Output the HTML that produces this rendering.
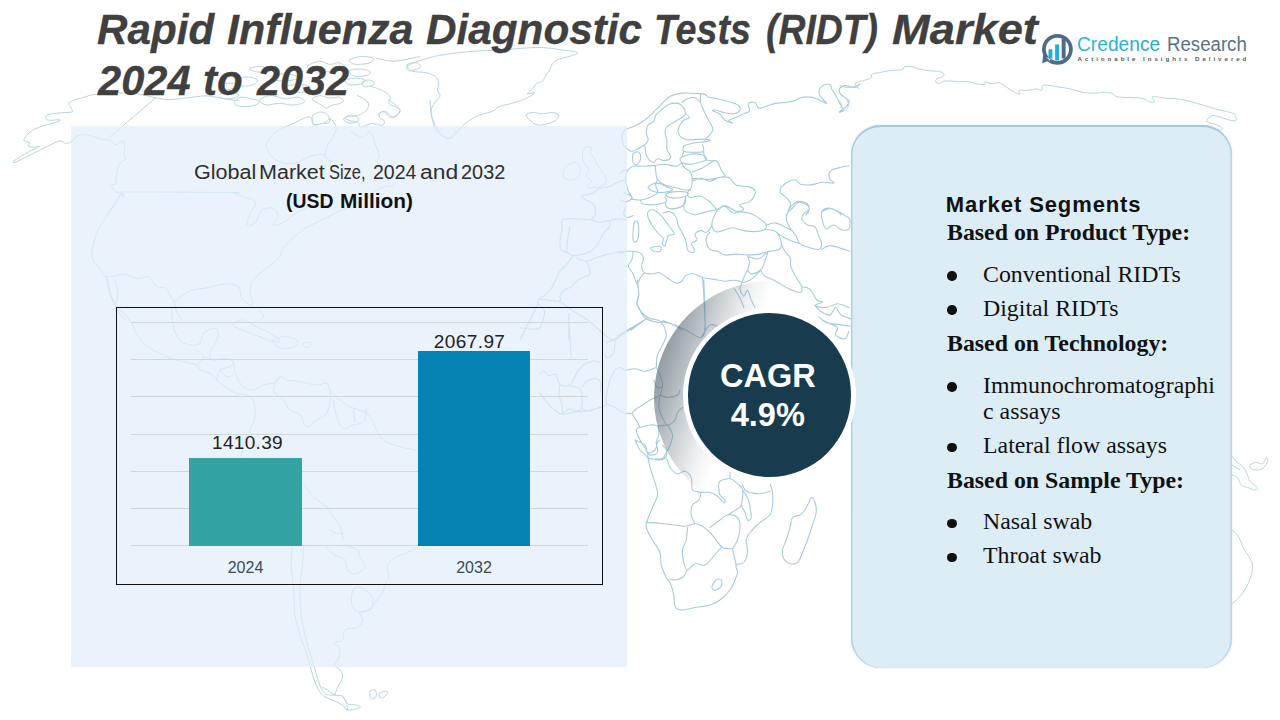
<!DOCTYPE html>
<html>
<head>
<meta charset="utf-8">
<title>Rapid Influenza Diagnostic Tests (RIDT) Market</title>
<style>
*{margin:0;padding:0;box-sizing:border-box;}
html,body{width:1280px;height:720px;overflow:hidden;background:#fff;}
body{position:relative;font-family:"Liberation Sans",sans-serif;}
.abs{position:absolute;}
#map{left:0;top:0;width:1280px;height:720px;}
#title{position:absolute;left:0;top:0;}
.tw{position:absolute;-webkit-text-stroke:0.3px #404040;font-weight:bold;font-style:italic;font-size:42px;line-height:51px;color:#404040;white-space:nowrap;transform-origin:0 0;}
#lpanel{left:71px;top:126px;width:556px;height:541px;background:rgba(225,238,249,0.7);}
#ct1,#ct2{position:absolute;left:0;top:0;}
.cw{position:absolute;font-size:19.6px;line-height:24px;color:#2e2e2e;white-space:nowrap;transform-origin:0 0;}
.cb{font-weight:bold;color:#111;}
#chart{left:116px;top:307px;width:487px;height:278px;border:1.5px solid #111;}
.gl{position:absolute;left:131px;width:457px;height:1px;background:#cfd7db;}
.bar{position:absolute;}
.vl{position:absolute;font-size:19px;line-height:22px;color:#222;text-align:center;white-space:nowrap;}
.xl{position:absolute;font-size:16px;line-height:18px;color:#3c4a52;text-align:center;white-space:nowrap;}
#rpanel{left:850.5px;top:125px;width:381.5px;height:542.5px;border-radius:30px;background:#ddedf6;box-shadow:inset 0 2px 0 0 #a8c9d9, inset 1.5px 0 0 0 #b3d2e0, inset -1.5px 0 0 0 #b9d6e3, 0 0 2px rgba(190,218,232,0.7);}
.seg{position:absolute;left:947px;white-space:nowrap;color:#111;}
.sh{font-family:"Liberation Serif",serif;font-weight:bold;font-size:23.85px;line-height:26px;}
.si{font-family:"Liberation Serif",serif;font-size:23.85px;line-height:26px;left:983px;}
.bu{position:absolute;width:9.6px;height:9.4px;border-radius:50%;background:#111;left:947px;}
</style>
</head>
<body>
<svg id="map" class="abs" viewBox="0 0 1280 720"><g fill="none" stroke-linejoin="round" stroke-linecap="round"><path d="M155.6 97.8 C151.2 97.0 141.7 93.8 131.2 93.1 C120.8 92.5 106.3 93.2 97.5 94.1 C88.7 94.9 87.6 96.3 82.5 97.8 C77.4 99.3 71.4 100.6 69.4 102.5 C67.3 104.4 70.7 106.4 71.2 108.1 C71.8 109.8 73.9 111.0 72.2 111.9 C70.5 112.7 66.3 112.3 61.9 112.8 C57.5 113.3 50.7 113.7 47.8 114.7 C44.9 115.7 45.6 117.4 45.9 118.4 C46.3 119.5 47.2 120.1 49.7 120.3 C52.2 120.5 58.8 119.4 60.0 119.8 C61.2 120.1 59.3 121.1 56.2 122.2 C53.2 123.3 47.5 124.4 43.1 125.9 C38.7 127.5 35.1 128.6 31.9 130.6 C28.7 132.7 26.7 135.3 25.3 137.2 C24.0 139.0 23.5 139.9 24.4 140.9 C25.2 141.9 29.3 142.0 30.0 142.8 C30.7 143.7 27.6 144.8 28.1 145.6 C28.6 146.4 30.8 147.0 32.8 147.1 C34.8 147.3 40.2 145.7 39.4 146.6 C38.5 147.5 31.8 150.2 28.1 152.2 C24.4 154.2 21.4 156.1 18.8 157.8 C16.1 159.5 13.8 160.7 13.1 161.6 C12.4 162.4 13.0 163.2 15.0 162.5 C17.0 161.8 20.3 159.8 24.4 157.8 C28.4 155.8 33.1 153.4 37.5 151.2 C41.9 149.1 44.7 147.5 48.8 145.6 C52.8 143.8 57.0 141.3 60.0 140.9 C63.0 140.5 63.3 143.4 65.6 143.4 C68.0 143.4 71.1 142.3 73.1 140.9 C75.2 139.6 74.5 137.0 76.9 135.9 C79.2 134.8 83.5 134.7 86.2 134.8 C89.0 134.8 89.2 135.5 91.9 136.2 C94.6 137.0 98.2 138.4 101.2 139.1 C104.3 139.7 106.7 139.5 108.8 140.0 C110.8 140.5 111.2 141.0 112.5 141.9 C113.8 142.7 114.4 144.9 116.2 144.7 C118.1 144.5 121.3 140.8 122.8 140.9 C124.3 141.1 124.5 143.1 124.7 145.6 C124.9 148.2 123.6 152.6 123.8 155.0 C123.9 157.4 126.3 157.2 125.6 158.8 C125.0 160.3 121.5 161.4 120.0 163.4 C118.5 165.5 117.9 167.5 117.2 170.0 C116.5 172.5 116.6 175.0 116.2 177.5 C115.9 180.0 116.2 182.7 115.3 184.1 C114.5 185.4 111.4 183.6 111.6 185.0 C111.7 186.4 114.7 190.6 116.2 191.9 C117.8 193.3 118.7 191.6 120.0 192.5 C121.3 193.4 123.4 197.2 123.8 197.2 C124.1 197.2 123.1 192.0 121.9 192.5 C120.7 193.0 118.9 197.3 117.2 200.0 C115.5 202.7 114.4 204.8 112.5 207.5 C110.6 210.2 107.9 213.7 106.9 215.0 M155.6 97.8 L109.7 137.2 M155.6 97.8 C158.0 98.2 163.0 99.7 168.8 99.7 C174.5 99.7 180.8 98.5 187.5 97.8 C194.2 97.1 199.5 95.8 206.2 95.9 C213.0 96.1 219.3 97.9 225.0 98.8 C230.7 99.6 235.8 100.3 238.1 100.6 M121.9 191.9 L240.0 192.5 M407.5 66.2 C407.9 64.7 410.9 64.1 415.0 62.5 C419.1 60.9 423.7 59.1 430.0 57.5 C436.3 55.9 441.9 54.9 450.0 53.8 C458.1 52.6 466.0 51.9 475.0 51.2 C484.0 50.6 488.8 50.7 500.0 50.0 C511.2 49.3 526.2 47.5 537.5 47.5 C548.8 47.5 555.3 49.1 562.5 50.0 C569.7 50.9 576.1 51.4 577.5 52.5 C578.9 53.6 573.1 55.1 570.0 56.2 C566.9 57.4 563.1 57.4 560.0 58.8 C556.9 60.1 554.3 61.7 552.5 63.8 C550.7 65.8 551.1 68.0 550.0 70.0 C548.9 72.0 547.6 73.0 546.2 75.0 C544.9 77.0 544.3 79.7 542.5 81.2 C540.7 82.8 538.0 82.4 536.2 83.8 C534.5 85.1 534.1 87.0 532.5 88.8 C530.9 90.5 527.0 93.1 527.5 93.8 C528.0 94.4 534.5 92.0 535.0 92.5 C535.5 93.0 532.2 94.9 530.0 96.2 C527.8 97.6 526.1 98.7 522.5 100.0 C518.9 101.3 514.0 102.6 510.0 103.8 C505.9 104.9 503.1 104.9 500.0 106.2 C496.9 107.6 496.1 109.7 492.5 111.2 C488.9 112.8 484.1 113.4 480.0 115.0 C475.9 116.6 473.1 118.0 470.0 120.0 C466.9 122.0 465.0 123.8 462.5 126.2 C460.0 128.7 458.5 131.5 456.2 133.8 C454.0 136.0 452.5 138.3 450.0 138.8 C447.5 139.2 445.0 137.8 442.5 136.2 C440.0 134.7 438.1 132.9 436.2 130.0 C434.4 127.1 433.4 123.6 432.5 120.0 C431.6 116.4 430.8 113.2 431.2 110.0 C431.7 106.8 433.4 105.0 435.0 102.5 C436.6 100.0 439.6 98.5 440.0 96.2 C440.4 94.0 437.7 92.5 437.5 90.0 C437.3 87.5 439.2 85.0 438.8 82.5 C438.3 80.0 437.5 78.0 435.0 76.2 C432.5 74.5 429.1 73.4 425.0 72.5 C420.9 71.6 415.6 72.4 412.5 71.2 C409.4 70.1 407.1 67.8 407.5 66.2 M526.2 115.0 C526.5 113.4 529.6 112.7 532.5 112.5 C535.4 112.3 538.9 113.8 542.5 113.8 C546.1 113.8 549.6 112.3 552.5 112.5 C555.4 112.7 558.1 113.7 558.8 115.0 C559.4 116.3 558.3 118.4 556.2 120.0 C554.2 121.6 550.9 122.8 547.5 123.8 C544.1 124.7 540.4 125.5 537.5 125.0 C534.6 124.5 533.3 123.0 531.2 121.2 C529.2 119.5 526.0 116.6 526.2 115.0 M585.0 147.5 C586.6 146.4 590.4 146.6 591.2 147.5 C592.1 148.4 589.5 150.7 590.0 152.5 C590.5 154.3 592.4 155.2 593.8 157.5 C595.1 159.8 595.9 162.3 597.5 165.0 C599.1 167.7 600.9 170.0 602.5 172.5 C604.1 175.0 606.0 176.5 606.2 178.8 C606.5 181.0 605.8 183.4 603.8 185.0 C601.7 186.6 598.1 187.1 595.0 187.5 C591.9 187.9 586.9 188.6 586.2 187.5 C585.6 186.4 591.2 183.3 591.2 181.2 C591.2 179.2 586.7 178.3 586.2 176.2 C585.8 174.2 589.2 172.5 588.8 170.0 C588.3 167.5 584.9 165.4 583.8 162.5 C582.6 159.6 582.3 156.4 582.5 153.8 C582.7 151.1 583.4 148.6 585.0 147.5 M565.0 167.5 C567.0 164.8 572.3 162.5 575.0 162.5 C577.7 162.5 579.3 165.0 580.0 167.5 C580.7 170.0 580.3 174.0 578.8 176.2 C577.2 178.5 574.0 179.8 571.2 180.0 C568.5 180.2 564.9 179.8 563.8 177.5 C562.6 175.2 563.0 170.2 565.0 167.5 M235.6 100.3 C236.8 98.9 239.1 97.5 241.9 97.2 C244.7 96.9 248.2 98.0 251.2 98.8 C254.3 99.5 258.2 100.0 259.1 101.1 C259.9 102.2 258.5 104.0 255.9 105.0 C253.4 106.0 248.7 106.6 245.0 106.6 C241.3 106.6 237.3 106.1 235.6 105.0 C233.9 103.9 234.5 101.7 235.6 100.3 M240.3 78.4 C242.0 77.3 245.0 76.6 248.1 76.9 C251.2 77.2 256.7 78.6 257.5 80.0 C258.3 81.4 255.3 83.6 252.8 84.7 C250.3 85.8 246.0 86.5 243.4 86.2 C240.9 86.0 239.3 84.5 238.8 83.1 C238.2 81.7 238.6 79.6 240.3 78.4 M249.7 68.3 C250.8 67.4 256.7 66.4 260.6 66.7 C264.6 67.0 270.7 68.9 271.6 69.8 C272.4 70.8 268.4 71.9 265.3 72.2 C262.2 72.5 257.2 72.1 254.4 71.4 C251.6 70.7 248.6 69.1 249.7 68.3 M260.6 98.8 C262.6 97.6 267.1 95.6 271.6 95.6 C276.1 95.6 280.8 98.5 285.6 98.8 C290.4 99.0 294.8 96.6 298.1 97.2 C301.5 97.8 305.2 100.5 304.4 101.9 C303.5 103.3 297.9 104.7 293.4 105.0 C288.9 105.3 284.2 103.4 279.4 103.4 C274.6 103.4 270.2 105.3 266.9 105.0 C263.5 104.7 261.8 103.0 260.6 101.9 C259.5 100.8 258.7 99.9 260.6 98.8 M307.5 65.9 C308.9 64.2 316.1 61.5 320.0 61.2 C323.9 61.0 326.0 64.1 329.4 64.4 C332.8 64.7 335.9 62.2 338.8 62.8 C341.6 63.4 345.6 66.1 345.0 67.5 C344.4 68.9 339.8 69.8 335.6 70.6 C331.4 71.5 325.8 72.2 321.6 72.2 C317.3 72.2 314.7 71.8 312.2 70.6 C309.7 69.5 306.1 67.6 307.5 65.9 M349.7 59.7 C351.4 58.6 356.4 56.8 360.6 56.6 C364.8 56.3 371.4 57.0 373.1 58.1 C374.8 59.2 372.8 61.7 370.0 62.8 C367.2 63.9 360.9 64.4 357.5 64.4 C354.1 64.4 352.7 63.7 351.2 62.8 C349.8 62.0 348.0 60.8 349.7 59.7 M349.7 70.6 C350.8 69.4 357.0 68.9 360.6 69.1 C364.3 69.2 368.9 70.3 370.0 71.4 C371.1 72.5 369.7 74.5 366.9 75.3 C364.1 76.2 357.5 76.9 354.4 76.1 C351.3 75.2 348.6 71.9 349.7 70.6 M345.0 80.0 C346.1 78.9 352.3 78.4 355.9 78.4 C359.6 78.4 364.5 79.0 365.3 80.0 C366.2 81.0 363.4 83.1 360.6 83.9 C357.8 84.8 352.5 85.4 349.7 84.7 C346.9 84.0 343.9 81.1 345.0 80.0 M362.2 82.3 C363.0 81.2 366.2 79.9 368.4 80.0 C370.7 80.1 374.4 82.0 374.7 83.1 C375.0 84.2 372.0 85.7 370.0 86.2 C368.0 86.8 365.2 87.0 363.8 86.2 C362.3 85.5 361.3 83.5 362.2 82.3 M312.2 98.8 C313.0 97.6 316.9 95.8 320.0 95.6 C323.1 95.5 326.0 97.7 329.4 98.0 C332.8 98.2 336.2 96.8 338.8 97.2 C341.3 97.6 343.2 99.2 343.4 100.3 C343.7 101.4 342.3 102.6 340.3 103.4 C338.3 104.3 335.0 104.2 332.5 105.0 C330.0 105.8 328.2 108.1 326.2 108.1 C324.3 108.1 323.5 106.1 321.6 105.0 C319.6 103.9 317.0 103.0 315.3 101.9 C313.6 100.8 311.3 99.9 312.2 98.8 M313.8 114.4 C315.4 113.1 319.0 111.9 321.6 112.0 C324.1 112.2 326.4 113.3 327.8 115.2 C329.2 117.0 330.5 120.6 329.4 122.2 C328.2 123.7 324.4 123.3 321.6 123.8 C318.8 124.2 315.4 125.4 313.8 124.5 C312.1 123.7 312.2 120.9 312.2 119.1 C312.2 117.2 312.1 115.6 313.8 114.4 M357.5 95.6 C358.6 96.2 361.8 97.3 363.8 98.8 C365.7 100.2 367.9 101.5 368.4 103.4 C369.0 105.4 368.3 107.7 366.9 109.7 C365.5 111.7 362.9 113.2 360.6 114.4 C358.4 115.5 357.2 115.4 354.4 115.9 C351.6 116.5 345.8 116.7 345.0 117.5 C344.2 118.3 347.4 119.8 349.7 120.6 C351.9 121.5 355.5 121.1 357.5 122.2 C359.5 123.3 358.4 126.6 360.6 126.9 C362.9 127.2 367.5 124.3 370.0 123.8 C372.5 123.2 372.4 123.5 374.7 123.8 C376.9 124.0 380.8 125.9 382.5 125.3 C384.2 124.8 384.6 122.0 384.1 120.6 C383.5 119.2 379.9 119.0 379.4 117.5 C378.8 116.0 379.8 112.9 380.9 112.0 C382.1 111.2 383.9 111.8 385.6 112.8 C387.3 113.8 388.3 116.9 390.3 117.5 C392.3 118.1 394.9 117.2 396.6 115.9 C398.2 114.7 400.0 112.2 399.7 110.5 C399.4 108.8 397.0 107.8 395.0 106.6 C393.0 105.3 389.6 105.1 388.8 103.4 C387.9 101.8 390.9 99.2 390.3 97.2 C389.8 95.2 387.9 94.0 385.6 92.5 C383.4 91.0 380.6 89.7 377.8 88.6 C375.0 87.5 371.4 86.7 370.0 86.2 M376.2 58.1 C379.1 58.7 386.8 61.0 391.9 61.2 C396.9 61.5 399.3 60.5 404.4 59.7 C409.4 58.8 417.2 57.1 420.0 56.6 M407.5 64.4 C408.9 63.0 414.6 62.2 416.9 62.8 C419.1 63.4 421.4 66.1 420.0 67.5 C418.6 68.9 411.3 71.2 409.1 70.6 C406.8 70.1 406.1 65.8 407.5 64.4 M220.0 94.1 C221.7 93.8 226.0 92.4 229.4 92.5 C232.8 92.6 237.9 93.9 238.8 94.8 C239.6 95.8 236.6 97.3 234.1 98.0 C231.5 98.7 227.2 98.9 224.7 98.8 C222.2 98.6 220.8 97.5 220.0 97.2 M220.0 86.2 C221.4 85.7 224.7 83.4 227.8 83.1 C230.9 82.8 236.3 83.7 237.2 84.7 C238.0 85.7 235.0 87.6 232.5 88.6 C230.0 89.6 224.8 89.9 223.1 90.2 M273.1 75.3 C275.4 74.5 281.1 73.5 285.6 73.8 C290.1 74.0 296.7 75.8 298.1 76.9 C299.5 78.0 296.8 79.3 293.4 80.0 C290.1 80.7 283.0 81.1 279.4 80.8 C275.7 80.5 274.2 79.4 273.1 78.4 C272.0 77.5 270.9 76.2 273.1 75.3 M285.6 86.2 C288.4 85.4 296.8 84.4 301.2 84.7 C305.8 85.0 310.1 86.5 310.6 87.8 C311.2 89.1 308.0 90.9 304.4 91.7 C300.7 92.6 293.7 92.9 290.3 92.5 C286.9 92.1 286.5 90.5 285.6 89.4 C284.8 88.2 282.8 87.1 285.6 86.2 M332.5 161.9 C331.1 160.9 326.0 158.9 325.0 156.2 C324.0 153.6 325.5 150.2 326.9 146.9 C328.2 143.5 330.8 140.9 332.5 137.5 C334.2 134.1 336.6 131.5 336.2 128.1 C335.9 124.8 332.6 119.8 330.6 118.8 C328.6 117.7 328.0 121.5 325.0 122.5 C322.0 123.5 316.4 125.4 313.8 124.4 C311.1 123.4 313.4 117.2 310.0 116.9 C306.6 116.5 301.1 119.8 295.0 122.5 C288.9 125.2 281.3 128.2 276.2 131.9 C271.2 135.6 268.2 139.4 266.9 143.1 C265.5 146.8 267.1 149.5 268.8 152.5 C270.4 155.5 272.9 158.0 276.2 160.0 C279.6 162.0 283.4 163.4 287.5 163.8 C291.6 164.1 294.7 163.2 298.8 161.9 C302.8 160.5 305.9 157.6 310.0 156.2 C314.1 154.9 318.6 154.4 321.2 154.4 C323.9 154.4 324.3 155.9 325.0 156.2 M351.2 131.9 C353.3 132.9 359.1 137.5 362.5 137.5 C365.9 137.5 367.6 130.5 370.0 131.9 C372.4 133.2 373.9 140.6 375.6 145.0 C377.3 149.4 379.0 153.2 379.4 156.2 C379.7 159.3 376.8 159.2 377.5 161.9 C378.2 164.6 381.1 168.2 383.1 171.2 C385.1 174.3 388.4 176.4 388.8 178.8 C389.1 181.1 385.7 183.4 385.0 184.4 M343.8 118.8 C344.4 117.4 348.6 115.0 351.2 115.0 C353.9 115.0 358.1 117.4 358.8 118.8 C359.4 120.1 357.0 121.8 355.0 122.5 C353.0 123.2 349.5 123.2 347.5 122.5 C345.5 121.8 343.1 120.1 343.8 118.8 M377.5 115.0 C378.9 114.3 382.3 110.9 385.0 111.2 C387.7 111.6 389.8 116.9 392.5 116.9 C395.2 116.9 399.3 113.3 400.0 111.2 C400.7 109.2 398.3 107.7 396.2 105.6 C394.2 103.6 390.1 101.0 388.8 100.0 M430.0 100.0 C430.2 102.0 430.3 107.2 430.9 111.2 C431.6 115.3 431.9 118.5 433.8 122.5 C435.6 126.5 438.6 131.1 441.2 133.8 C443.9 136.4 446.1 137.8 448.8 137.5 C451.4 137.2 454.2 133.6 456.2 131.9 C458.3 130.2 459.3 128.8 460.0 128.1 M840.0 85.6 C841.4 86.0 844.8 87.3 847.5 87.5 C850.2 87.7 853.0 86.4 855.0 86.6 C857.0 86.7 858.8 88.9 858.8 88.4 C858.8 87.9 854.3 85.1 855.0 83.8 C855.7 82.4 859.6 82.0 862.5 80.9 C865.4 79.9 869.2 79.3 870.9 78.1 C872.6 76.9 870.4 75.4 871.9 74.4 C873.4 73.4 876.0 73.2 879.4 72.5 C882.8 71.8 886.6 71.1 890.6 70.6 C894.7 70.1 899.3 70.4 901.9 69.7 C904.4 69.0 903.0 67.4 904.7 66.9 C906.4 66.3 908.7 66.2 911.2 66.5 C913.8 66.8 915.7 68.0 918.8 68.8 C921.8 69.5 924.4 70.1 928.1 70.6 C931.8 71.1 936.5 70.9 939.4 71.6 C942.2 72.2 943.7 73.4 944.1 74.4 C944.4 75.4 942.6 76.3 941.2 77.2 C939.9 78.0 937.6 78.2 936.6 79.1 C935.5 79.9 935.1 81.1 935.6 81.9 C936.1 82.7 937.7 83.5 939.4 83.4 C941.1 83.2 942.0 81.3 945.0 80.9 C948.0 80.6 951.9 81.3 956.2 81.5 C960.6 81.7 965.7 81.5 969.4 81.9 C973.1 82.3 974.2 83.2 976.9 83.8 C979.6 84.3 982.9 85.0 984.4 84.7 C985.9 84.3 984.0 82.0 985.3 81.9 C986.7 81.7 989.3 83.6 991.9 83.8 C994.4 83.9 996.7 82.1 999.4 82.8 C1002.1 83.5 1004.2 85.8 1006.9 87.5 C1009.6 89.2 1012.0 91.0 1014.4 92.2 C1016.7 93.4 1019.2 94.4 1020.0 94.1 C1020.8 93.7 1017.7 91.0 1019.1 90.3 C1020.4 89.6 1024.3 90.5 1027.5 90.3 C1030.7 90.1 1034.3 89.0 1036.9 89.0 C1039.4 89.0 1040.5 90.9 1041.6 90.3 C1042.6 89.7 1041.0 86.5 1042.5 85.6 C1044.0 84.8 1046.9 85.3 1050.0 85.6 C1053.1 85.9 1058.1 87.0 1059.9 87.3 M840.0 94.1 C841.0 94.7 844.1 96.0 845.6 97.8 C847.1 99.7 848.4 102.2 848.4 104.4 C848.4 106.6 847.1 108.7 845.6 110.0 C844.1 111.3 841.0 111.5 840.0 111.9 M840.0 101.6 C840.3 102.1 841.7 103.4 841.9 104.4 C842.0 105.4 841.1 106.7 840.9 107.2 M1060.0 87.2 C1061.9 87.5 1066.3 88.0 1070.3 88.9 C1074.3 89.8 1078.0 91.6 1082.3 92.3 C1086.7 93.1 1090.7 93.2 1094.4 93.2 C1098.1 93.2 1099.9 92.3 1103.0 92.3 C1106.1 92.3 1109.1 92.4 1111.6 93.2 C1114.0 94.0 1113.6 95.9 1116.7 96.6 C1119.8 97.4 1124.1 97.2 1128.8 97.5 C1133.4 97.8 1138.8 97.6 1142.5 98.4 C1146.2 99.1 1147.2 101.2 1149.4 101.8 C1151.5 102.4 1154.1 102.6 1154.5 101.8 C1155.0 101.0 1152.0 98.4 1152.0 97.5 C1152.0 96.6 1151.9 96.5 1154.5 96.6 C1157.2 96.8 1161.9 97.9 1166.6 98.4 C1171.2 98.8 1174.7 98.3 1180.3 99.2 C1185.9 100.1 1191.3 101.8 1197.5 103.5 C1203.7 105.2 1208.5 107.0 1214.7 108.7 C1220.9 110.4 1228.2 111.7 1231.9 113.0 C1235.6 114.2 1234.5 114.3 1235.3 115.5 C1236.1 116.8 1236.8 118.9 1236.2 119.8 C1235.6 120.8 1234.2 121.0 1231.9 120.7 C1229.6 120.4 1226.7 119.1 1223.3 118.1 C1219.9 117.2 1215.8 115.4 1213.0 115.5 C1210.2 115.7 1208.9 117.9 1207.8 119.0 C1206.7 120.1 1205.7 120.6 1207.0 121.6 C1208.2 122.5 1212.1 123.1 1214.7 124.1 C1217.3 125.2 1220.5 126.5 1221.6 127.6 C1222.6 128.7 1221.9 129.8 1220.7 130.2 C1219.5 130.5 1215.8 129.5 1214.7 129.3 M1232.0 456.2 C1233.0 457.4 1235.4 460.5 1237.5 462.5 C1239.6 464.5 1242.0 465.2 1243.8 467.5 C1245.5 469.8 1246.4 472.5 1247.5 475.0 C1248.6 477.5 1248.2 479.0 1250.0 481.2 C1251.8 483.5 1256.6 485.9 1257.5 487.5 C1258.4 489.1 1256.8 490.0 1255.0 490.0 C1253.2 490.0 1250.0 488.4 1247.5 487.5 C1245.0 486.6 1243.0 486.8 1241.2 485.0 C1239.5 483.2 1239.2 479.3 1237.5 477.5 C1235.8 475.7 1233.0 475.4 1232.0 475.0 M1232.0 465.0 L1240.0 470.0 M1250.0 465.0 C1250.9 463.9 1254.0 462.7 1256.2 462.5 C1258.5 462.3 1260.7 464.6 1262.5 463.8 C1264.3 462.9 1265.3 457.9 1266.2 457.5 C1267.2 457.1 1268.0 459.4 1267.5 461.2 C1267.0 463.1 1265.5 465.9 1263.8 467.5 C1262.0 469.1 1259.8 469.8 1257.5 470.0 C1255.2 470.2 1252.6 469.6 1251.2 468.8 C1249.9 467.9 1249.1 466.1 1250.0 465.0 M1232.0 530.0 C1233.0 530.9 1235.8 532.8 1237.5 535.0 C1239.2 537.2 1240.1 540.0 1241.2 542.5 C1242.4 545.0 1242.4 546.3 1243.8 548.8 C1245.1 551.2 1247.2 553.3 1248.8 556.2 C1250.3 559.2 1252.0 561.6 1252.5 565.0 C1253.0 568.4 1252.2 571.4 1251.2 575.0 C1250.3 578.6 1249.3 581.4 1247.5 585.0 C1245.7 588.6 1243.5 592.1 1241.2 595.0 C1239.0 597.9 1236.7 599.7 1235.0 601.2 C1233.3 602.8 1232.5 603.3 1232.0 603.8 M292.5 545.0 C292.3 548.6 291.0 556.9 291.2 565.0 C291.5 573.1 293.1 581.0 293.8 590.0 C294.4 599.0 293.9 606.9 295.0 615.0 C296.1 623.1 298.0 628.2 300.0 635.0 C302.0 641.8 304.2 646.2 306.2 652.5 C308.3 658.8 309.4 664.1 311.2 670.0 C313.1 675.9 314.2 680.5 316.2 685.0 C318.3 689.5 319.6 692.3 322.5 695.0 C325.4 697.7 328.9 698.2 332.5 700.0 C336.1 701.8 339.8 703.2 342.5 705.0 C345.2 706.8 344.4 709.5 347.5 710.0 C350.6 710.5 358.4 708.4 360.0 707.5 C361.6 706.6 358.5 705.7 356.2 705.0 C354.0 704.3 350.0 705.3 347.5 703.8 C345.0 702.2 344.8 697.8 342.5 696.2 C340.2 694.7 337.7 696.1 335.0 695.0 C332.3 693.9 329.8 691.4 327.5 690.0 C325.2 688.6 323.4 688.0 322.5 687.5 M303.8 547.5 C303.5 550.6 303.2 557.4 302.5 565.0 C301.8 572.6 300.2 581.0 300.0 590.0 C299.8 599.0 300.1 606.0 301.2 615.0 C302.4 624.0 304.0 631.0 306.2 640.0 C308.5 649.0 311.5 657.4 313.8 665.0 C316.0 672.6 316.9 677.5 318.8 682.5 C320.6 687.5 321.9 690.2 323.8 692.5 C325.6 694.8 326.7 694.5 328.8 695.0 C330.8 695.5 333.9 695.0 335.0 695.0 M417.5 547.5 C415.7 548.4 411.6 550.7 407.5 552.5 C403.4 554.3 398.6 555.2 395.0 557.5 C391.4 559.8 388.6 561.4 387.5 565.0 C386.4 568.6 389.2 573.9 388.8 577.5 C388.3 581.1 386.1 582.3 385.0 585.0 C383.9 587.7 384.3 589.4 382.5 592.5 C380.7 595.6 377.2 599.4 375.0 602.5 C372.8 605.6 372.7 608.2 370.0 610.0 C367.3 611.8 361.4 610.7 360.0 612.5 C358.6 614.3 362.9 617.3 362.5 620.0 C362.1 622.7 360.6 625.7 357.5 627.5 C354.4 629.3 347.7 627.8 345.0 630.0 C342.3 632.2 344.3 637.8 342.5 640.0 C340.7 642.2 335.4 640.7 335.0 642.5 C334.6 644.3 339.6 646.9 340.0 650.0 C340.4 653.1 338.6 657.3 337.5 660.0 C336.4 662.7 333.3 663.2 333.8 665.0 C334.2 666.8 338.4 667.8 340.0 670.0 C341.6 672.2 342.9 674.4 342.5 677.5 C342.1 680.6 338.9 684.4 337.5 687.5 C336.1 690.6 335.4 693.6 335.0 695.0 M355.0 587.5 C357.5 585.7 361.9 588.2 365.0 590.0 C368.1 591.8 371.4 594.4 372.5 597.5 C373.6 600.6 372.6 605.0 371.2 607.5 C369.9 610.0 367.0 610.4 365.0 611.2 C363.0 612.1 361.8 612.7 360.0 612.5 C358.2 612.3 356.6 612.2 355.0 610.0 C353.4 607.8 351.2 604.0 351.2 600.0 C351.2 596.0 352.5 589.3 355.0 587.5 M326.2 547.5 C327.8 548.9 331.6 552.8 335.0 555.0 C338.4 557.2 342.8 557.3 345.0 560.0 C347.2 562.7 345.7 567.5 347.5 570.0 C349.3 572.5 352.3 573.8 355.0 573.8 C357.7 573.8 360.7 571.6 362.5 570.0 C364.3 568.4 365.4 567.2 365.0 565.0 C364.6 562.8 361.4 560.2 360.0 557.5 C358.6 554.8 360.2 552.2 357.5 550.0 C354.8 547.8 347.2 545.9 345.0 545.0 M370.0 691.2 C370.7 689.7 373.9 689.1 375.0 690.0 C376.1 690.9 376.9 694.7 376.2 696.2 C375.6 697.8 372.4 699.6 371.2 698.8 C370.1 697.9 369.3 692.8 370.0 691.2 M380.0 692.5 C381.4 691.6 386.8 691.1 387.5 692.0 C388.2 692.9 385.2 696.6 383.8 697.5 C382.3 698.4 380.2 697.9 379.5 697.0 C378.8 696.1 378.6 693.4 380.0 692.5 M342.5 696.2 C343.2 697.4 345.4 700.0 346.2 702.5 C347.1 705.0 347.3 708.6 347.5 710.0 M120.0 310.0 C121.8 311.8 126.7 315.2 130.0 320.0 C133.3 324.8 134.7 331.6 138.3 336.7 C141.9 341.8 144.9 344.7 150.0 348.3 C155.1 351.9 160.7 354.3 166.7 356.7 C172.7 359.1 177.9 360.2 183.3 361.7 C188.7 363.2 193.7 363.5 196.7 365.0 C199.7 366.5 197.6 368.5 200.0 370.0 C202.4 371.5 207.0 371.5 210.0 373.3 C213.0 375.1 213.7 377.3 216.7 380.0 C219.7 382.7 223.1 385.9 226.7 388.3 C230.3 390.7 233.1 392.1 236.7 393.3 C240.3 394.5 243.7 393.8 246.7 395.0 C249.7 396.2 251.8 396.1 253.3 400.0 C254.8 403.9 255.6 411.3 255.0 416.7 C254.4 422.1 252.1 425.2 250.0 430.0 C247.9 434.8 244.8 438.5 243.3 443.3 C241.8 448.1 242.0 454.3 241.7 456.7 M171.7 308.3 C172.0 311.6 171.8 321.0 173.3 326.7 C174.8 332.4 177.0 336.7 180.0 340.0 C183.0 343.3 186.4 344.4 190.0 345.0 C193.6 345.6 197.6 345.4 200.0 343.3 C202.4 341.2 200.9 336.0 203.3 333.3 C205.7 330.6 210.6 328.3 213.3 328.3 C216.0 328.3 218.0 330.6 218.3 333.3 C218.6 336.0 216.5 339.7 215.0 343.3 C213.5 346.9 210.3 350.3 210.0 353.3 C209.7 356.3 210.9 359.1 213.3 360.0 C215.7 360.9 219.7 358.0 223.3 358.3 C226.9 358.6 232.1 360.2 233.3 361.7 C234.5 363.2 232.4 365.2 230.0 366.7 C227.6 368.2 222.4 367.6 220.0 370.0 C217.6 372.4 217.3 378.2 216.7 380.0 M233.3 361.7 C233.9 364.4 234.9 372.2 236.7 376.7 C238.5 381.2 240.3 384.3 243.3 386.7 C246.3 389.1 249.7 390.3 253.3 390.0 C256.9 389.7 259.7 386.2 263.3 385.0 C266.9 383.8 271.5 383.6 273.3 383.3 M233.3 325.0 C232.7 322.9 239.1 319.7 243.3 320.0 C247.5 320.3 251.9 324.3 256.7 326.7 C261.5 329.1 265.8 330.9 270.0 333.3 C274.2 335.7 279.4 338.5 280.0 340.0 C280.6 341.5 276.9 342.3 273.3 341.7 C269.7 341.1 264.8 338.5 260.0 336.7 C255.2 334.9 251.5 333.8 246.7 331.7 C241.9 329.6 233.9 327.1 233.3 325.0 M273.3 340.0 C274.8 338.5 279.1 336.7 283.3 336.7 C287.5 336.7 294.6 338.2 296.7 340.0 C298.8 341.8 297.4 345.2 295.0 346.7 C292.6 348.2 286.9 348.6 283.3 348.3 C279.7 348.0 276.8 346.5 275.0 345.0 C273.2 343.5 271.8 341.5 273.3 340.0 M303.3 343.3 C304.4 342.6 308.8 342.1 310.0 342.7 C311.2 343.3 311.1 345.9 310.0 346.7 C308.9 347.4 305.2 347.3 304.0 346.7 C302.8 346.1 302.3 344.1 303.3 343.3 M273.3 383.3 C274.5 382.1 277.6 377.3 280.0 376.7 C282.4 376.1 283.1 379.1 286.7 380.0 C290.3 380.9 294.6 380.8 300.0 381.7 C305.4 382.6 311.9 384.7 316.7 385.0 C321.5 385.3 324.3 382.4 326.7 383.3 C329.1 384.2 327.6 387.0 330.0 390.0 C332.4 393.0 336.4 397.0 340.0 400.0 C343.6 403.0 345.8 404.6 350.0 406.7 C354.2 408.8 359.7 409.9 363.3 411.7 C366.9 413.5 367.6 413.4 370.0 416.7 C372.4 420.0 374.3 425.8 376.7 430.0 C379.1 434.2 379.1 437.0 383.3 440.0 C387.5 443.0 394.0 444.9 400.0 446.7 C406.0 448.5 413.7 449.4 416.7 450.0 M280.0 376.7 C278.8 379.1 272.7 385.8 273.3 390.0 C273.9 394.2 280.3 396.4 283.3 400.0 C286.3 403.6 287.0 407.3 290.0 410.0 C293.0 412.7 297.0 412.0 300.0 415.0 C303.0 418.0 303.7 425.8 306.7 426.7 C309.7 427.6 313.1 422.4 316.7 420.0 C320.3 417.6 324.3 416.9 326.7 413.3 C329.1 409.7 329.4 404.2 330.0 400.0 C330.6 395.8 330.0 391.8 330.0 390.0 M333.3 400.0 C333.9 403.0 334.9 411.6 336.7 416.7 C338.5 421.8 340.3 426.8 343.3 428.3 C346.3 429.8 349.7 426.2 353.3 425.0 C356.9 423.8 360.9 424.4 363.3 421.7 C365.7 419.0 366.7 411.8 366.7 410.0 C366.7 408.2 363.9 411.4 363.3 411.7 M353.3 410.0 L355.0 421.7 M196.7 350.0 C197.9 351.2 203.3 354.0 203.3 356.7 C203.3 359.4 197.9 363.5 196.7 365.0 M203.3 356.7 L213.3 360.0 M220.0 370.0 C221.2 371.2 224.3 375.8 226.7 376.7 C229.1 377.6 232.1 375.3 233.3 375.0 M303.3 483.3 C305.1 485.7 309.1 492.5 313.3 496.7 C317.5 500.9 323.1 503.1 326.7 506.7 C330.3 510.3 330.9 513.1 333.3 516.7 C335.7 520.3 338.2 522.5 340.0 526.7 C341.8 530.9 342.7 537.6 343.3 540.0 M330.0 530.0 C331.2 530.6 334.3 532.7 336.7 533.3 C339.1 533.9 342.1 533.3 343.3 533.3 M260.0 310.0 C260.6 311.2 263.0 315.2 263.3 316.7 C263.6 318.2 262.0 318.0 261.7 318.3 M122.0 192.7 C120.3 195.4 116.0 202.3 112.2 208.1 C108.4 213.9 104.2 218.9 100.9 225.0 C97.6 231.1 95.4 235.8 93.9 241.9 C92.4 247.9 91.2 253.7 92.5 258.8 C93.8 263.8 98.4 266.7 100.9 270.0 C103.5 273.3 102.5 276.3 106.6 277.0 C110.6 277.8 117.9 274.0 123.4 274.2 C129.0 274.5 132.9 277.9 137.5 278.4 C142.1 278.9 145.2 275.5 148.8 277.0 C152.3 278.6 154.2 284.9 157.2 286.9 C160.2 288.9 162.6 285.8 165.6 288.3 C168.7 290.8 171.0 299.7 174.1 300.9 C177.1 302.2 179.0 297.3 182.5 295.3 C186.0 293.3 189.7 291.0 193.8 289.7 C197.8 288.4 200.9 289.0 205.0 288.3 C209.1 287.5 212.2 286.2 216.2 285.5 C220.3 284.7 223.4 283.8 227.5 284.1 C231.6 284.3 236.2 284.3 238.8 286.9 C241.3 289.4 239.5 294.8 241.6 298.1 C243.6 301.4 248.0 304.1 250.0 305.2 C252.0 306.2 252.8 306.0 252.8 303.8 C252.8 301.5 250.0 296.6 250.0 292.5 C250.0 288.4 250.3 285.3 252.8 281.2 C255.3 277.2 259.5 274.1 264.1 270.0 C268.6 265.9 274.6 262.8 278.1 258.8 C281.7 254.7 280.7 251.6 283.8 247.5 C286.8 243.4 290.9 239.8 295.0 236.2 C299.1 232.7 302.2 230.3 306.2 227.8 C310.3 225.3 312.4 224.7 317.5 222.2 C322.6 219.7 328.3 216.8 334.4 213.8 C340.4 210.7 345.2 208.3 351.2 205.3 C357.3 202.3 363.1 199.9 368.1 196.9 C373.2 193.8 374.8 190.5 379.4 188.4 C383.9 186.4 390.9 186.1 393.4 185.6 M106.6 277.0 C107.1 279.8 107.9 287.7 109.4 292.5 C110.9 297.3 113.5 303.8 115.0 303.8 C116.5 303.8 117.8 296.8 117.8 292.5 C117.8 288.2 115.5 282.1 115.0 279.8 M233.1 192.7 C235.2 193.4 240.3 195.1 244.4 196.9 C248.4 198.6 254.6 199.5 255.6 202.5 C256.6 205.5 251.5 209.7 250.0 213.8 C248.5 217.8 246.2 223.5 247.2 225.0 C248.2 226.5 253.1 224.7 255.6 222.2 C258.2 219.7 258.2 213.5 261.2 210.9 C264.3 208.4 269.5 207.1 272.5 208.1 C275.5 209.1 278.1 213.5 278.1 216.6 C278.1 219.6 271.5 224.0 272.5 225.0 C273.5 226.0 279.7 224.2 283.8 222.2 C287.8 220.2 290.9 216.3 295.0 213.8 C299.1 211.2 304.2 209.1 306.2 208.1 M174.1 300.9 C174.6 303.0 175.4 308.7 176.9 312.2 C178.4 315.6 181.5 318.6 182.5 320.1 M106.6 277.0 C107.6 280.8 109.7 291.3 112.2 298.1 C114.7 305.0 118.1 311.1 120.6 315.0 C123.2 318.9 125.2 319.2 126.2 320.1" stroke="#b7d5e0" stroke-width="1"/><path d="M623.8 145.6 C623.4 143.9 621.5 139.1 621.9 136.2 C622.2 133.4 623.3 131.5 625.6 129.7 C628.0 127.8 631.6 127.6 635.0 125.9 C638.4 124.2 641.3 122.5 644.4 120.3 C647.4 118.1 649.5 115.9 651.9 113.8 C654.2 111.6 655.1 110.5 657.5 108.1 C659.9 105.8 662.6 102.8 665.0 100.6 C667.4 98.4 667.6 97.3 670.6 95.9 C673.7 94.6 677.5 93.6 681.9 93.1 C686.3 92.7 691.0 93.3 695.0 93.5 C699.0 93.7 702.0 93.5 704.4 94.1 C706.7 94.7 705.8 96.0 708.1 96.9 C710.5 97.7 713.8 97.9 717.5 98.8 C721.2 99.6 725.0 100.4 728.8 101.6 C732.5 102.7 736.1 103.8 738.1 105.3 C740.1 106.8 740.7 108.5 740.0 110.0 C739.3 111.5 737.1 113.2 734.4 113.8 C731.7 114.3 728.4 113.5 725.0 112.8 C721.6 112.1 717.8 110.3 715.6 110.0 C713.4 109.7 712.1 110.3 712.8 110.9 C713.5 111.6 717.2 112.1 719.4 113.8 C721.6 115.4 722.6 118.6 725.0 120.3 C727.4 122.0 731.8 123.1 732.5 123.1 C733.2 123.1 728.1 121.3 728.8 120.3 C729.4 119.3 733.5 118.7 736.2 117.5 C739.0 116.3 741.4 114.9 743.8 113.8 C746.1 112.6 748.5 112.8 749.4 110.9 C750.2 109.1 747.4 105.0 748.4 103.4 C749.5 101.9 753.1 101.7 755.0 102.5 C756.9 103.3 756.7 107.5 758.8 108.1 C760.8 108.8 763.2 107.1 766.2 106.2 C769.3 105.4 772.2 104.1 775.6 103.4 C779.0 102.8 781.6 103.0 785.0 102.5 C788.4 102.0 791.5 101.5 794.4 100.6 C797.2 99.8 798.6 98.5 800.9 97.8 C803.3 97.1 804.6 96.7 807.5 96.9 C810.4 97.0 813.5 97.6 816.9 98.8 C820.2 99.9 825.2 103.4 826.2 103.4 C827.3 103.4 823.9 100.6 822.5 98.8 C821.1 96.9 818.8 95.5 818.8 93.1 C818.8 90.8 820.5 87.1 822.5 85.6 C824.5 84.1 828.3 84.0 830.0 84.7 C831.7 85.4 830.9 87.5 831.9 89.4 C832.9 91.2 834.3 92.6 835.6 95.0 C837.0 97.4 838.0 99.8 839.4 102.5 C840.7 105.2 843.1 108.3 843.1 110.0 C843.1 111.7 838.7 112.5 839.4 111.9 C840.0 111.2 845.2 108.3 846.9 106.2 C848.6 104.2 849.8 102.7 848.8 100.6 C847.7 98.6 842.9 97.0 841.2 95.0 C839.6 93.0 838.7 91.1 839.4 89.4 C840.0 87.7 842.3 86.0 845.0 85.6 C847.7 85.3 851.7 87.8 854.4 87.5 C857.1 87.2 859.0 84.4 860.0 83.8 M685.6 113.8 C685.3 112.7 685.1 110.0 683.8 108.1 C682.4 106.3 680.8 104.1 678.1 103.4 C675.4 102.8 671.8 103.2 668.8 104.4 C665.7 105.6 663.6 108.0 661.2 110.0 C658.9 112.0 657.0 113.6 655.6 115.6 C654.3 117.7 655.1 119.6 653.8 121.2 C652.4 122.9 649.5 123.0 648.1 125.0 C646.8 127.0 646.2 129.8 646.2 132.5 C646.2 135.2 648.5 137.6 648.1 140.0 C647.8 142.4 645.0 144.6 644.4 145.6 M685.6 113.8 C685.0 114.4 684.2 115.8 681.9 117.5 C679.5 119.2 675.2 121.4 672.5 123.1 C669.8 124.8 668.2 125.2 666.9 126.9 C665.5 128.6 665.0 130.1 665.0 132.5 C665.0 134.9 666.5 137.0 666.9 140.0 C667.2 143.0 666.2 146.3 666.9 149.4 C667.5 152.4 671.0 154.8 670.6 156.9 C670.3 158.9 667.4 160.3 665.0 160.6 C662.6 161.0 659.5 158.4 657.5 158.8 C655.5 159.1 655.1 162.2 653.8 162.5 C652.4 162.8 651.4 162.0 650.0 160.6 C648.6 159.3 647.3 157.7 646.2 155.0 C645.2 152.3 645.7 146.8 644.4 145.6 C643.0 144.4 641.1 147.4 638.8 148.4 C636.4 149.4 634.0 151.8 631.2 151.2 C628.5 150.7 625.1 146.6 623.8 145.6 M685.6 113.8 C686.3 114.4 689.7 116.3 689.4 117.5 C689.0 118.7 685.4 119.0 683.8 120.3 C682.1 121.7 681.0 123.1 680.0 125.0 C679.0 126.9 678.1 128.6 678.1 130.6 C678.1 132.7 678.3 134.6 680.0 136.2 C681.7 137.9 684.1 139.5 687.5 140.0 C690.9 140.5 694.7 139.1 698.8 139.1 C702.8 139.1 709.0 139.5 710.0 140.0 C711.0 140.5 707.1 141.4 704.4 141.9 C701.7 142.4 698.7 142.1 695.0 142.8 C691.3 143.5 685.8 145.1 683.8 145.6 M700.6 95.0 C700.6 96.3 700.0 99.5 700.6 102.5 C701.3 105.5 703.0 108.8 704.4 111.9 C705.7 114.9 706.6 116.3 708.1 119.4 C709.6 122.4 712.5 126.0 712.8 128.8 C713.1 131.4 711.5 132.3 710.0 134.4 C708.5 136.4 705.4 139.0 704.4 140.0 M681.9 102.5 C682.9 101.8 685.1 99.6 687.5 98.8 C689.9 97.9 692.6 97.1 695.0 97.8 C697.4 98.5 699.6 101.7 700.6 102.5 M683.8 145.6 C683.8 146.6 681.7 150.1 683.8 151.2 C685.8 152.4 691.5 152.2 695.0 152.2 C698.5 152.2 702.1 152.6 703.4 151.2 C704.8 149.9 702.7 145.9 702.5 144.7 M683.8 151.2 C683.4 152.3 682.5 155.5 681.9 156.9 C681.2 158.2 680.0 157.7 680.0 158.8 C680.0 159.8 680.2 161.5 681.9 162.5 C683.6 163.5 686.3 164.4 689.4 164.4 C692.4 164.4 695.7 163.3 698.8 162.5 C701.8 161.7 705.6 161.0 706.2 159.7 C706.9 158.3 705.2 156.0 702.5 155.0 C699.8 154.0 695.0 153.7 691.2 154.1 C687.5 154.4 683.6 156.4 681.9 156.9 M703.4 151.2 C703.9 152.8 704.1 158.0 706.2 159.7 C708.4 161.4 713.9 160.5 715.6 160.6 M633.1 154.1 C634.1 152.2 637.4 151.3 638.8 152.2 C640.1 153.0 641.0 156.6 640.6 158.8 C640.3 160.9 638.2 163.7 636.9 164.4 C635.5 165.1 633.8 164.4 633.1 162.5 C632.5 160.6 632.1 155.9 633.1 154.1 M623.8 170.0 C624.4 170.0 625.8 170.7 627.5 170.0 C629.2 169.3 630.1 166.9 633.1 166.2 C636.2 165.6 640.3 166.4 644.4 166.2 C648.4 166.1 651.9 165.7 655.6 165.3 C659.3 165.0 661.3 164.2 665.0 164.4 C668.7 164.5 673.2 166.6 676.2 166.2 C679.3 165.9 680.9 163.2 681.9 162.5 M655.6 165.3 C655.6 166.2 655.3 167.5 655.6 170.0 C656.0 172.5 655.8 176.7 657.5 179.4 C659.2 182.1 661.6 183.5 665.0 185.0 C668.4 186.5 671.9 187.0 676.2 187.8 C680.6 188.7 686.5 190.9 689.4 189.7 C692.2 188.5 692.0 184.5 692.2 181.2 C692.4 178.0 691.8 174.4 690.3 171.9 C688.8 169.3 685.3 168.9 683.8 167.2 C682.2 165.5 682.2 163.3 681.9 162.5 M631.2 196.2 C630.6 194.9 628.5 192.1 627.5 188.8 C626.5 185.4 625.6 180.9 625.6 177.5 C625.6 174.1 627.2 171.3 627.5 170.0 M631.2 199.1 C632.9 199.2 637.2 200.3 640.6 200.0 C644.0 199.7 647.0 198.5 650.0 197.2 C653.0 195.8 656.5 194.7 657.5 192.5 C658.5 190.3 655.6 187.4 655.6 185.0 C655.6 182.6 657.2 180.4 657.5 179.4 M692.2 171.9 C694.0 171.2 698.3 170.2 702.5 168.1 C706.7 166.1 712.2 160.3 715.6 160.6 C719.0 161.0 719.6 167.3 721.2 170.0 C722.9 172.7 725.3 174.3 725.0 175.6 C724.7 177.0 722.4 176.8 719.4 177.5 C716.3 178.2 713.0 179.2 708.1 179.4 C703.2 179.5 695.1 178.6 692.2 178.4 M692.2 181.2 C693.7 180.7 697.4 178.4 700.6 178.4 C703.8 178.4 706.6 181.4 710.0 181.2 C713.4 181.1 716.0 178.2 719.4 177.5 C722.8 176.8 725.7 176.2 728.8 177.5 C731.8 178.8 732.5 183.3 736.2 185.0 C740.0 186.7 746.0 185.9 749.4 186.9 C752.8 187.9 754.2 188.9 755.0 190.6 C755.8 192.3 755.1 194.2 754.1 196.2 C753.0 198.3 751.9 200.4 749.4 201.9 C746.8 203.4 741.0 203.3 740.0 204.7 C739.0 206.0 744.4 208.2 743.8 209.4 C743.1 210.6 739.6 211.9 736.2 211.2 C732.9 210.6 728.4 206.0 725.0 205.6 C721.6 205.3 720.2 210.1 717.5 209.4 C714.8 208.7 713.0 204.2 710.0 201.9 C707.0 199.5 704.3 197.1 700.6 196.2 C696.9 195.4 691.7 197.9 689.4 197.2 C687.0 196.5 687.3 193.8 687.5 192.5 C687.7 191.2 689.8 190.2 690.3 189.7 M648.1 186.9 C648.8 185.4 654.1 183.1 657.5 183.1 C660.9 183.1 664.2 185.7 666.9 186.9 C669.6 188.1 673.2 188.7 672.5 189.7 C671.8 190.7 666.5 192.2 663.1 192.5 C659.8 192.8 656.5 192.6 653.8 191.6 C651.0 190.6 647.5 188.4 648.1 186.9 M666.9 193.4 C668.6 192.6 672.5 191.7 676.2 191.6 C680.0 191.4 685.8 191.7 687.5 192.5 C689.2 193.3 688.0 195.2 685.6 196.2 C683.3 197.3 677.8 198.1 674.4 198.1 C671.0 198.1 668.2 197.1 666.9 196.2 C665.5 195.4 665.2 194.3 666.9 193.4 M640.6 200.0 C641.0 200.7 640.1 202.9 642.5 203.8 C644.9 204.6 649.5 205.0 653.8 204.7 C658.0 204.3 663.9 203.2 665.9 201.9 C668.0 200.5 665.2 198.0 665.0 197.2 M665.9 201.9 C666.1 202.9 665.0 206.3 666.9 207.5 C668.7 208.7 673.0 209.1 676.2 208.4 C679.5 207.8 683.0 205.8 684.7 203.8 C686.4 201.7 685.5 198.4 685.6 197.2 M685.6 198.1 C685.3 199.3 683.8 202.3 683.8 204.7 C683.8 207.1 683.6 209.4 685.6 211.2 C687.6 213.1 693.3 214.3 695.0 215.0 M710.0 201.9 C711.0 203.2 716.0 207.7 715.6 209.4 C715.3 211.1 711.8 210.2 708.1 211.2 C704.4 212.3 697.4 214.3 695.0 215.0 M781.2 186.9 C782.6 185.9 786.0 182.4 788.8 181.2 C791.5 180.1 794.2 179.8 796.2 180.3 C798.3 180.8 798.0 183.2 800.0 184.1 C802.0 184.9 804.8 185.0 807.5 185.0 C810.2 185.0 812.3 184.6 815.0 184.1 C817.7 183.6 819.1 182.4 822.5 182.2 C825.9 182.0 832.4 183.6 833.8 183.1 C835.1 182.6 830.8 181.1 830.0 179.4 C829.2 177.7 828.7 175.4 829.1 173.8 C829.4 172.1 829.7 171.2 831.9 170.0 C834.1 168.8 838.2 167.9 841.2 167.2 C844.3 166.4 847.4 166.1 848.8 165.9 M781.2 186.9 C781.1 187.9 779.3 190.5 780.3 192.5 C781.3 194.5 785.0 196.1 786.9 198.1 C788.7 200.2 790.3 201.7 790.6 203.8 C791.0 205.8 789.4 207.3 788.8 209.4 C788.1 211.4 787.2 214.0 786.9 215.0 M788.8 209.4 C790.1 208.0 793.2 203.1 796.2 201.9 C799.3 200.7 803.3 201.5 805.6 202.8 C808.0 204.2 809.4 207.2 809.4 209.4 C809.4 211.6 806.3 214.0 805.6 215.0 M822.5 211.2 C823.9 210.7 827.3 208.4 830.0 208.4 C832.7 208.4 835.5 210.1 837.5 211.2 C839.5 212.4 840.6 214.3 841.2 215.0 M620.0 173.8 L623.8 170.0 M623.8 192.5 C625.1 193.2 629.9 195.1 631.2 196.2 C632.6 197.4 632.3 198.1 631.2 199.1 C630.2 200.1 627.6 201.7 625.6 201.9 C623.6 202.0 621.0 200.3 620.0 200.0 M648.1 211.9 C649.1 210.5 651.4 209.3 653.8 210.0 C656.1 210.7 658.9 213.3 661.2 215.6 C663.6 218.0 664.9 220.4 666.9 223.1 C668.9 225.8 671.1 228.6 672.5 230.6 C673.9 232.7 675.0 233.5 674.4 234.4 C673.7 235.2 670.1 234.3 668.8 235.3 C667.4 236.3 667.5 238.1 666.9 240.0 C666.2 241.9 665.8 244.9 665.0 245.6 C664.2 246.3 662.5 245.1 662.2 243.8 C661.9 242.4 664.0 240.2 663.1 238.1 C662.3 236.1 659.5 234.9 657.5 232.5 C655.5 230.1 653.6 227.7 651.9 225.0 C650.2 222.3 648.8 219.9 648.1 217.5 C647.5 215.1 647.1 213.2 648.1 211.9 M650.9 247.5 C652.1 246.7 658.6 245.9 660.3 246.6 C662.0 247.2 661.5 250.4 660.3 251.2 C659.1 252.1 655.4 251.9 653.8 251.2 C652.1 250.6 649.8 248.3 650.9 247.5 M634.1 223.1 C634.9 219.9 637.0 220.5 637.8 222.2 C638.7 223.9 638.9 229.1 638.8 232.5 C638.6 235.9 637.9 239.6 636.9 240.9 C635.9 242.3 633.6 243.2 633.1 240.0 C632.6 236.8 633.2 226.3 634.1 223.1 M663.1 212.8 C664.5 212.6 668.3 211.0 670.6 211.9 C673.0 212.7 674.9 215.1 676.2 217.5 C677.6 219.9 677.1 222.3 678.1 225.0 C679.1 227.7 680.5 229.8 681.9 232.5 C683.2 235.2 684.8 237.6 685.6 240.0 C686.5 242.4 686.1 243.6 686.6 245.6 C687.1 247.7 687.1 250.1 688.4 251.2 C689.8 252.4 693.2 253.0 694.1 252.2 C694.9 251.3 693.6 248.1 693.1 246.6 C692.6 245.0 690.6 244.9 691.2 243.8 C691.9 242.6 696.2 241.7 696.9 240.0 C697.5 238.3 694.3 236.1 695.0 234.4 C695.7 232.7 698.6 231.0 700.6 230.6 C702.6 230.3 704.6 232.8 706.2 232.5 C707.9 232.2 709.0 230.1 710.0 228.8 C711.0 227.4 711.5 225.7 711.9 225.0 M713.8 217.5 C714.8 214.8 715.5 212.0 717.5 210.0 C719.5 208.0 722.3 205.7 725.0 206.2 C727.7 206.8 729.8 211.8 732.5 212.8 C735.2 213.8 736.6 211.7 740.0 211.9 C743.4 212.0 747.5 212.4 751.2 213.8 C755.0 215.1 757.9 217.3 760.6 219.4 C763.3 221.4 765.6 223.1 766.2 225.0 C766.9 226.9 766.4 228.5 764.4 229.7 C762.4 230.9 758.7 231.4 755.0 231.6 C751.3 231.7 747.8 231.3 743.8 230.6 C739.7 229.9 736.2 227.8 732.5 227.8 C728.8 227.8 726.2 229.9 723.1 230.6 C720.1 231.3 717.6 232.6 715.6 231.6 C713.6 230.6 712.2 227.5 711.9 225.0 C711.5 222.5 712.7 220.2 713.8 217.5 M764.4 229.7 C766.4 230.0 772.6 229.4 775.6 231.6 C778.7 233.8 780.6 238.7 781.2 241.9 C781.9 245.1 781.4 247.7 779.4 249.4 C777.4 251.1 773.7 250.4 770.0 251.2 C766.3 252.1 762.8 253.4 758.8 254.1 C754.7 254.7 751.5 255.0 747.5 255.0 C743.5 255.0 740.3 254.1 736.2 254.1 C732.2 254.1 728.4 255.5 725.0 255.0 C721.6 254.5 720.2 252.3 717.5 251.2 C714.8 250.2 712.0 251.1 710.0 249.4 C708.0 247.7 706.8 244.4 706.2 241.9 C705.7 239.3 706.5 237.0 707.2 235.3 C707.9 233.6 709.5 233.0 710.0 232.5 M747.5 255.0 C747.8 256.4 749.4 259.8 749.4 262.5 C749.4 265.2 748.5 267.3 747.5 270.0 C746.5 272.7 744.8 275.1 743.8 277.5 C742.7 279.9 742.5 281.1 741.9 283.1 C741.2 285.1 739.7 286.4 740.0 288.8 C740.3 291.1 742.4 295.9 743.8 296.2 C745.1 296.6 746.1 289.9 747.5 290.6 C748.9 291.3 749.9 297.0 751.2 300.0 C752.6 303.0 754.3 306.1 755.0 307.5 M749.4 256.9 C751.1 257.2 755.4 259.8 758.8 258.8 C762.1 257.7 766.4 252.6 768.1 251.2 M768.1 251.2 C767.5 253.3 765.7 259.1 764.4 262.5 C763.0 265.9 763.0 268.0 760.6 270.0 C758.3 272.0 753.6 273.8 751.2 273.8 C748.9 273.8 748.2 270.7 747.5 270.0 M760.6 270.0 C761.3 271.0 761.7 273.6 764.4 275.6 C767.1 277.6 771.2 278.9 775.6 281.2 C780.0 283.6 784.4 286.7 788.8 288.8 C793.1 290.8 797.6 292.8 800.0 292.5 C802.4 292.2 802.5 289.6 801.9 286.9 C801.2 284.2 798.3 281.2 796.2 277.5 C794.2 273.8 791.6 269.6 790.6 266.2 C789.6 262.9 791.6 261.4 790.6 258.8 C789.6 256.1 786.7 253.9 785.0 251.2 C783.3 248.6 781.9 245.1 781.2 243.8 M801.9 286.9 C803.2 287.2 806.7 286.4 809.4 288.8 C812.1 291.1 814.5 297.6 816.9 300.0 C819.2 302.4 822.8 300.9 822.5 301.9 C822.2 302.9 814.3 304.6 815.0 305.6 C815.7 306.6 822.2 307.8 826.2 307.5 C830.3 307.2 833.5 303.8 837.5 303.8 C841.5 303.8 846.7 306.8 848.8 307.5 M741.9 283.1 C743.6 282.4 747.9 281.7 751.2 279.4 C754.6 277.0 758.9 271.7 760.6 270.0 M815.0 305.6 C816.0 306.6 817.9 309.6 820.6 311.2 C823.3 312.9 827.3 315.7 830.0 315.0 C832.7 314.3 833.6 307.5 835.6 307.5 C837.6 307.5 838.5 313.0 841.2 315.0 C844.0 317.0 848.9 318.1 850.6 318.8 M818.8 316.9 C820.1 317.9 822.9 321.1 826.2 322.5 C829.6 323.9 833.1 323.7 837.5 324.4 C841.9 325.1 848.3 325.9 850.6 326.2 M786.9 213.8 C787.9 211.4 790.5 210.2 792.5 208.1 C794.5 206.1 795.8 203.2 798.1 202.5 C800.5 201.8 803.6 203.2 805.6 204.4 C807.6 205.6 809.7 207.4 809.4 209.1 C809.0 210.8 805.1 211.9 803.8 213.8 C802.4 215.6 801.2 217.3 801.9 219.4 C802.5 221.4 805.1 223.7 807.5 225.0 C809.9 226.3 813.0 224.8 815.0 226.9 C817.0 228.9 817.6 233.2 818.8 236.2 C819.9 239.3 821.6 241.4 821.6 243.8 C821.6 246.1 820.9 248.7 818.8 249.4 C816.6 250.1 812.8 248.5 809.4 247.5 C806.0 246.5 802.4 245.8 800.0 243.8 C797.6 241.7 797.9 238.9 796.2 236.2 C794.6 233.6 792.3 231.4 790.6 228.8 C788.9 226.1 787.5 223.9 786.9 221.2 C786.2 218.6 785.9 216.1 786.9 213.8 M821.6 211.9 C822.6 209.5 825.3 208.3 828.1 208.1 C831.0 208.0 834.5 209.6 837.5 210.9 C840.5 212.3 842.8 214.1 845.0 215.6 C847.2 217.1 849.0 217.0 849.7 219.4 C850.4 221.7 850.3 226.9 848.8 228.8 C847.2 230.6 844.0 230.4 841.2 229.7 C838.5 229.0 836.5 225.2 833.8 225.0 C831.0 224.8 828.3 229.4 826.2 228.8 C824.2 228.1 823.3 224.3 822.5 221.2 C821.7 218.2 820.5 214.2 821.6 211.9 M821.6 249.4 C823.1 248.7 826.5 245.8 830.0 245.6 C833.5 245.5 837.7 247.4 841.2 248.4 C844.8 249.4 848.2 250.7 849.7 251.2 M766.2 225.0 C767.9 224.7 772.2 222.8 775.6 223.1 C779.0 223.5 782.0 225.5 785.0 226.9 C788.0 228.2 791.1 229.9 792.5 230.6 M775.6 231.6 C777.3 232.7 781.6 236.3 785.0 238.1 C788.4 240.0 791.7 240.9 794.4 241.9 C797.1 242.9 799.0 243.4 800.0 243.8 M620.0 253.1 C621.4 252.8 625.1 251.6 627.5 251.2 C629.9 250.9 630.8 250.9 633.1 251.2 C635.5 251.6 638.8 251.8 640.6 253.1 C642.5 254.5 643.3 256.4 643.4 258.8 C643.6 261.1 641.4 263.7 641.6 266.2 C641.7 268.8 642.5 271.5 644.4 272.8 C646.2 274.2 649.2 273.8 651.9 273.8 C654.6 273.8 656.7 272.1 659.4 272.8 C662.1 273.5 663.8 275.6 666.9 277.5 C669.9 279.4 673.5 282.4 676.2 283.1 C679.0 283.8 680.2 282.6 681.9 281.2 C683.6 279.9 683.6 277.0 685.6 275.6 C687.6 274.3 690.1 273.4 693.1 273.8 C696.2 274.1 698.8 276.5 702.5 277.5 C706.2 278.5 709.7 278.7 713.8 279.4 C717.8 280.1 721.6 281.1 725.0 281.2 C728.4 281.4 729.8 280.3 732.5 280.3 C735.2 280.3 738.3 280.7 740.0 281.2 C741.7 281.8 741.5 282.8 741.9 283.1 M633.1 251.2 C633.0 252.6 633.0 256.1 632.2 258.8 C631.3 261.4 628.3 263.6 628.4 266.2 C628.6 268.9 631.6 270.7 633.1 273.8 C634.6 276.8 635.5 282.4 636.9 283.1 C638.2 283.8 639.3 279.4 640.6 277.5 C642.0 275.6 643.7 273.7 644.4 272.8 M636.9 283.1 C637.2 284.8 638.8 288.8 638.8 292.5 C638.8 296.2 636.5 300.4 636.9 303.8 C637.2 307.1 638.9 308.6 640.6 311.2 C642.3 313.9 642.9 316.7 646.2 318.8 C649.6 320.8 656.3 322.2 659.4 322.5 C662.4 322.8 662.5 321.0 663.1 320.6 M702.5 277.5 C702.7 279.5 703.1 283.4 703.4 288.8 C703.8 294.1 704.0 300.1 704.4 307.5 C704.7 314.9 705.1 325.9 705.3 330.0 M734.4 288.8 C735.4 290.4 738.3 294.8 740.0 298.1 C741.7 301.5 743.1 305.8 743.8 307.5 M663.1 320.6 C665.5 321.6 672.9 324.6 676.2 326.2 C679.6 327.9 680.9 329.3 681.9 330.0 M646.2 318.8 C644.9 319.8 641.5 322.4 638.8 324.4 C636.0 326.4 632.6 329.0 631.2 330.0 M625.6 206.2 C625.3 207.6 623.4 211.7 623.8 213.8 C624.1 215.8 625.8 217.2 627.5 217.5 C629.2 217.8 632.1 216.0 633.1 215.6 M822.5 320.0 C823.9 320.7 827.3 322.4 830.0 323.8 C832.7 325.1 836.5 325.5 837.5 327.5 C838.5 329.5 834.3 333.0 835.6 335.0 C837.0 337.0 842.6 339.4 845.0 338.8 C847.4 338.1 848.1 332.6 848.8 331.2 M635.0 440.0 C635.9 441.8 637.8 446.9 640.0 450.0 C642.2 453.1 645.7 454.4 647.5 457.5 C649.3 460.6 648.6 463.0 650.0 467.5 C651.4 472.0 653.6 477.6 655.0 482.5 C656.4 487.4 658.0 490.5 657.5 495.0 C657.0 499.5 654.3 503.0 652.5 507.5 C650.7 512.0 648.6 516.4 647.5 520.0 C646.4 523.6 645.4 523.9 646.2 527.5 C647.1 531.1 650.0 535.5 652.5 540.0 C655.0 544.5 658.4 548.0 660.0 552.5 C661.6 557.0 660.1 560.5 661.2 565.0 C662.4 569.5 664.7 574.4 666.2 577.5 C667.8 580.6 668.6 579.4 670.0 582.5 C671.4 585.6 672.9 590.7 673.8 595.0 C674.6 599.3 673.6 603.5 675.0 606.2 C676.4 609.0 677.6 609.8 681.2 610.0 C684.9 610.2 689.8 608.4 695.0 607.5 C700.2 606.6 705.5 606.4 710.0 605.0 C714.5 603.6 716.4 602.7 720.0 600.0 C723.6 597.3 727.3 593.6 730.0 590.0 C732.7 586.4 733.6 583.1 735.0 580.0 C736.4 576.9 737.3 575.2 737.5 572.5 C737.7 569.8 735.1 566.8 736.2 565.0 C737.4 563.2 741.7 564.8 743.8 562.5 C745.8 560.2 747.0 556.5 747.5 552.5 C748.0 548.5 745.8 543.6 746.2 540.0 C746.7 536.4 747.5 535.6 750.0 532.5 C752.5 529.4 756.4 525.6 760.0 522.5 C763.6 519.4 767.8 518.1 770.0 515.0 C772.2 511.9 772.0 509.1 772.5 505.0 C773.0 500.9 773.0 496.3 772.5 492.5 C772.0 488.7 770.5 485.3 770.0 483.8 M647.5 457.5 C649.3 457.9 654.1 459.8 657.5 460.0 C660.9 460.2 664.0 457.4 666.2 458.8 C668.5 460.1 668.0 464.8 670.0 467.5 C672.0 470.2 674.8 473.1 677.5 473.8 C680.2 474.4 682.5 470.6 685.0 471.2 C687.5 471.9 689.9 474.1 691.2 477.5 C692.6 480.9 690.9 487.3 692.5 490.0 C694.1 492.7 698.9 490.7 700.0 492.5 C701.1 494.3 700.1 497.8 698.8 500.0 C697.4 502.2 693.9 502.3 692.5 505.0 C691.1 507.7 690.8 511.6 691.2 515.0 C691.7 518.4 694.3 522.2 695.0 523.8 M646.2 522.5 C649.6 522.7 658.0 523.1 665.0 523.8 C672.0 524.4 679.6 526.2 685.0 526.2 C690.4 526.2 691.9 523.8 695.0 523.8 C698.1 523.8 701.1 525.8 702.5 526.2 M687.5 527.5 C687.3 529.8 687.1 536.0 686.2 540.0 C685.4 544.0 683.0 546.0 682.5 550.0 C682.0 554.0 682.9 558.9 683.8 562.5 C684.6 566.1 685.5 569.8 687.5 570.0 C689.5 570.2 691.9 564.6 695.0 563.8 C698.1 562.9 701.9 566.1 705.0 565.0 C708.1 563.9 709.8 560.4 712.5 557.5 C715.2 554.6 718.2 550.5 720.0 548.8 C721.8 547.0 722.0 547.7 722.5 547.5 M687.5 570.0 C686.6 571.4 684.8 575.7 682.5 577.5 C680.2 579.3 677.2 579.8 675.0 580.0 C672.8 580.2 670.9 579.0 670.0 578.8 M702.5 526.2 C703.9 527.4 707.5 530.0 710.0 532.5 C712.5 535.0 714.0 537.3 716.2 540.0 C718.5 542.7 719.6 545.9 722.5 547.5 C725.4 549.1 730.7 548.5 732.5 548.8 M710.0 527.5 C711.8 526.1 716.9 522.2 720.0 520.0 C723.1 517.8 724.4 515.5 727.5 515.0 C730.6 514.5 735.2 515.2 737.5 517.5 C739.8 519.8 740.0 523.5 740.0 527.5 C740.0 531.5 738.9 536.2 737.5 540.0 C736.1 543.8 733.4 547.2 732.5 548.8 M700.0 492.5 C701.8 492.5 706.9 491.8 710.0 492.5 C713.1 493.2 715.0 494.4 717.5 496.2 C720.0 498.1 722.4 501.8 723.8 502.5 C725.1 503.2 725.7 501.4 725.0 500.0 C724.3 498.6 721.1 497.2 720.0 495.0 C718.9 492.8 718.8 490.0 718.8 487.5 C718.8 485.0 718.0 482.8 720.0 481.2 C722.0 479.7 726.9 478.3 730.0 478.8 C733.1 479.2 735.2 481.7 737.5 483.8 C739.8 485.8 741.8 486.2 742.5 490.0 C743.2 493.8 742.1 501.6 741.2 505.0 C740.4 508.4 740.0 506.9 737.5 508.8 C735.0 510.6 729.3 513.9 727.5 515.0 M742.5 490.0 C743.4 491.4 746.1 494.4 747.5 497.5 C748.9 500.6 749.3 503.9 750.0 507.5 C750.7 511.1 751.7 515.2 751.2 517.5 C750.8 519.8 748.6 520.9 747.5 520.0 C746.4 519.1 746.1 515.2 745.0 512.5 C743.9 509.8 741.9 506.4 741.2 505.0 M750.0 492.5 C751.8 492.7 756.4 494.0 760.0 493.8 C763.6 493.5 768.2 491.7 770.0 491.2 M732.5 548.8 C733.0 550.8 734.3 557.1 735.0 560.0 C735.7 562.9 736.0 564.1 736.2 565.0 M712.5 585.0 C713.2 583.4 714.7 580.9 716.2 580.0 C717.8 579.1 720.4 578.9 721.2 580.0 C722.1 581.1 722.1 584.5 721.2 586.2 C720.4 588.0 717.8 589.5 716.2 590.0 C714.7 590.5 713.2 589.6 712.5 588.8 C711.8 587.9 711.8 586.6 712.5 585.0 M730.0 472.5 L730.0 478.8 M742.5 485.0 C743.0 485.9 743.6 488.6 745.0 490.0 C746.4 491.4 749.1 492.1 750.0 492.5 M811.2 497.5 C812.4 497.5 814.1 499.8 815.0 502.5 C815.9 505.2 816.7 508.4 816.2 512.5 C815.8 516.5 814.1 520.0 812.5 525.0 C810.9 530.0 809.3 535.0 807.5 540.0 C805.7 545.0 804.3 548.5 802.5 552.5 C800.7 556.5 799.8 560.5 797.5 562.5 C795.2 564.5 792.5 564.4 790.0 563.8 C787.5 563.1 785.1 561.2 783.8 558.8 C782.4 556.3 782.0 553.4 782.5 550.0 C783.0 546.6 784.9 544.0 786.2 540.0 C787.6 536.0 788.9 531.5 790.0 527.5 C791.1 523.5 790.7 519.8 792.5 517.5 C794.3 515.2 797.8 516.4 800.0 515.0 C802.2 513.6 803.4 512.2 805.0 510.0 C806.6 507.8 807.6 504.8 808.8 502.5 C809.9 500.2 810.1 497.5 811.2 497.5 M635.0 440.0 C636.8 440.9 642.8 442.8 645.0 445.0 C647.2 447.2 645.7 451.6 647.5 452.5 C649.3 453.4 653.2 451.8 655.0 450.0 C656.8 448.2 656.6 444.3 657.5 442.5 C658.4 440.7 659.5 440.4 660.0 440.0 M647.5 452.5 C648.0 453.6 646.9 457.9 650.0 458.8 C653.1 459.6 662.1 459.1 665.0 457.5 C667.9 455.9 666.7 452.2 666.2 450.0 C665.8 447.8 663.2 445.9 662.5 445.0 M562.2 220.0 C564.6 218.2 570.4 218.9 575.6 218.9 C580.8 218.9 586.7 219.4 591.1 220.0 C595.5 220.6 596.8 222.0 600.0 222.2 C603.2 222.4 607.3 220.1 608.9 221.1 C610.5 222.1 609.7 225.8 608.9 227.8 C608.1 229.8 606.0 230.0 604.4 232.2 C602.8 234.4 601.6 237.4 600.0 240.0 C598.4 242.6 597.2 244.7 595.6 246.7 C594.0 248.7 593.5 249.7 591.1 251.1 C588.7 252.5 585.4 253.6 582.2 254.4 C579.0 255.2 576.1 256.0 573.3 255.6 C570.5 255.2 568.9 253.2 566.7 252.2 C564.5 251.2 562.3 252.2 561.1 250.0 C559.9 247.8 559.8 243.8 560.0 240.0 C560.2 236.2 561.8 232.5 562.2 228.9 C562.6 225.3 559.8 221.8 562.2 220.0 M570.0 226.7 C569.6 228.7 568.4 233.2 567.8 237.8 C567.2 242.4 566.9 249.6 566.7 252.2 M591.1 220.0 C591.9 218.8 595.2 216.1 595.6 213.3 C596.0 210.5 595.3 207.0 593.3 204.4 C591.3 201.8 586.4 200.5 584.4 198.9 C582.4 197.3 580.6 196.6 582.2 195.6 C583.8 194.6 590.5 194.5 593.3 193.3 C596.1 192.1 595.0 190.1 597.8 188.9 C600.6 187.7 605.3 187.9 608.9 186.7 C612.5 185.5 615.0 183.4 617.8 182.2 C620.6 181.0 623.2 180.4 624.4 180.0 M608.9 221.1 C610.5 220.7 614.6 219.1 617.8 218.9 C621.0 218.7 625.1 219.8 626.7 220.0 M573.3 255.6 C572.1 257.2 569.1 261.6 566.7 264.4 C564.3 267.2 562.0 268.3 560.0 271.1 C558.0 273.9 557.2 276.8 555.6 280.0 C554.0 283.2 553.1 286.1 551.1 288.9 C549.1 291.7 546.6 293.8 544.4 295.6 C542.2 297.4 540.1 297.3 538.9 298.9 C537.7 300.5 538.8 301.8 537.8 304.4 C536.8 307.0 534.9 310.1 533.3 313.3 C531.7 316.5 530.5 319.0 528.9 322.2 C527.3 325.4 526.0 327.9 524.4 331.1 C522.8 334.3 520.8 338.4 520.0 340.0 M575.6 257.8 C577.6 258.4 583.1 261.1 586.7 261.1 C590.3 261.1 592.0 259.0 595.6 257.8 C599.2 256.6 602.7 255.4 606.7 254.4 C610.7 253.4 614.2 252.8 617.8 252.2 C621.4 251.6 625.1 251.3 626.7 251.1 M586.7 261.1 C587.1 262.3 588.3 265.4 588.9 267.8 C589.5 270.2 591.2 272.6 590.0 274.4 C588.8 276.2 584.8 276.4 582.2 277.8 C579.6 279.2 577.6 280.6 575.6 282.2 C573.6 283.8 573.1 285.3 571.1 286.7 C569.1 288.1 566.4 288.4 564.4 290.0 C562.4 291.6 561.0 293.6 560.0 295.6 C559.0 297.6 562.7 300.5 558.9 301.1 C555.1 301.7 542.5 299.3 538.9 298.9 M558.9 301.1 C559.9 301.7 561.8 302.6 564.4 304.4 C567.0 306.2 569.7 308.7 573.3 311.1 C576.9 313.5 580.4 315.0 584.4 317.8 C588.4 320.6 592.4 323.9 595.6 326.7 C598.8 329.5 601.0 332.1 602.2 333.3 M568.9 313.3 L568.9 340.0 M538.9 304.4 C539.9 305.6 543.8 307.9 544.4 311.1 C545.0 314.3 543.4 319.0 542.2 322.2 C541.0 325.4 541.8 327.9 537.8 328.9 C533.8 329.9 523.2 328.0 520.0 327.8 M568.9 320.0 C569.1 323.2 569.6 331.0 570.0 337.8 C570.4 344.6 570.9 354.2 571.1 357.8 M540.0 373.3 C540.8 372.9 542.8 370.7 544.4 371.1 C546.0 371.5 546.9 375.0 548.9 375.6 C550.9 376.2 553.6 372.8 555.6 374.4 C557.6 376.0 557.6 382.4 560.0 384.4 C562.4 386.4 566.5 386.4 568.9 385.6 C571.3 384.8 571.7 382.6 573.3 380.0 C574.9 377.4 575.8 373.9 577.8 371.1 C579.8 368.3 581.6 366.2 584.4 364.4 C587.2 362.6 590.5 361.5 593.3 361.1 C596.1 360.7 598.8 362.0 600.0 362.2 M560.0 384.4 C559.8 386.4 558.5 392.0 558.9 395.6 C559.3 399.2 561.6 401.0 562.2 404.4 C562.8 407.8 562.2 412.6 562.2 414.4 M568.9 385.6 C570.9 386.2 577.6 386.3 580.0 388.9 C582.4 391.5 582.0 396.4 582.2 400.0 C582.4 403.6 582.3 406.9 581.1 408.9 C579.9 410.9 577.8 411.1 575.6 411.1 C573.4 411.1 571.3 408.3 568.9 408.9 C566.5 409.5 563.4 413.4 562.2 414.4 M582.2 386.7 C583.4 385.5 586.1 381.4 588.9 380.0 C591.7 378.6 595.6 378.1 597.8 378.9 C600.0 379.7 600.7 381.8 601.1 384.4 C601.5 387.0 600.2 391.7 600.0 393.3 M582.2 408.9 C583.4 409.3 586.5 411.1 588.9 411.1 C591.3 411.1 593.6 409.7 595.6 408.9 C597.6 408.1 599.2 407.1 600.0 406.7 M540.0 393.3 C541.2 394.9 544.3 399.4 546.7 402.2 C549.1 405.0 550.5 406.7 553.3 408.9 C556.1 411.1 558.6 413.8 562.2 414.4 C565.8 415.0 569.3 412.8 573.3 412.2 C577.3 411.6 579.6 411.9 584.4 411.1 C589.2 410.3 596.0 409.0 600.0 407.8 C604.0 406.6 605.5 405.0 606.7 404.4 M606.7 342.2 C607.9 341.8 610.5 341.6 613.3 340.0 C616.1 338.4 618.6 335.7 622.2 333.3 C625.8 330.9 629.3 329.1 633.3 326.7 C637.3 324.3 642.4 321.2 644.4 320.0 M637.5 280.0 C637.7 282.7 638.8 290.5 638.8 295.0 C638.8 299.5 635.9 300.9 637.5 305.0 C639.1 309.1 643.5 314.6 647.5 317.5 C651.5 320.4 656.6 318.3 660.0 321.2 C663.4 324.2 665.6 329.9 666.2 333.8 C666.9 337.6 665.3 338.7 663.8 342.5 C662.2 346.3 658.9 350.5 657.5 355.0 C656.1 359.5 656.5 365.2 656.2 367.5 M660.0 321.2 C662.7 321.9 669.6 323.0 675.0 325.0 C680.4 327.0 685.3 330.2 690.0 332.5 C694.7 334.8 698.5 338.9 701.2 337.5 C704.0 336.1 704.5 335.4 705.0 325.0 C705.5 314.6 704.0 288.1 703.8 280.0 M701.2 337.5 C702.8 335.2 706.6 326.8 710.0 325.0 C713.4 323.2 718.2 327.1 720.0 327.5 M647.5 317.5 C645.7 318.9 641.5 322.3 637.5 325.0 C633.5 327.7 629.0 329.8 625.0 332.5 C621.0 335.2 617.7 338.9 615.0 340.0 C612.3 341.1 611.8 339.6 610.0 338.8 C608.2 337.9 606.8 336.6 605.0 335.0 C603.2 333.4 600.9 330.9 600.0 330.0 M615.0 340.0 C614.8 342.2 615.1 349.4 613.8 352.5 C612.4 355.6 609.1 357.1 607.5 357.5 C605.9 357.9 605.5 355.4 605.0 355.0 M656.2 367.5 C654.2 368.2 648.8 371.0 645.0 371.2 C641.2 371.5 638.6 369.0 635.0 368.8 C631.4 368.5 627.7 370.2 625.0 370.0 C622.3 369.8 621.8 367.5 620.0 367.5 C618.2 367.5 616.8 367.8 615.0 370.0 C613.2 372.2 611.4 376.4 610.0 380.0 C608.6 383.6 608.2 385.9 607.5 390.0 C606.8 394.1 604.9 399.4 606.2 402.5 C607.6 405.6 612.1 405.7 615.0 407.5 C617.9 409.3 619.4 411.4 622.5 412.5 C625.6 413.6 630.7 413.5 632.5 413.8 M656.2 367.5 C656.9 368.9 658.9 371.9 660.0 375.0 C661.1 378.1 663.0 382.8 662.5 385.0 C662.0 387.2 659.1 388.4 657.5 387.5 C655.9 386.6 654.4 381.4 653.8 380.0 M662.5 385.0 C662.0 386.8 662.2 392.3 660.0 395.0 C657.8 397.7 653.1 398.2 650.0 400.0 C646.9 401.8 645.2 403.2 642.5 405.0 C639.8 406.8 636.8 408.4 635.0 410.0 C633.2 411.6 632.0 411.5 632.5 413.8 C633.0 416.0 636.1 420.0 637.5 422.5 C638.9 425.0 639.5 426.6 640.0 427.5 M660.0 395.0 C661.4 395.4 664.4 397.5 667.5 397.5 C670.6 397.5 675.2 396.4 677.5 395.0 C679.8 393.6 679.5 390.9 680.0 390.0 M660.0 395.0 C659.8 397.2 658.3 403.4 658.8 407.5 C659.2 411.6 660.9 414.4 662.5 417.5 C664.1 420.6 665.2 424.6 667.5 425.0 C669.8 425.4 673.2 422.2 675.0 420.0 C676.8 417.8 676.1 414.8 677.5 412.5 C678.9 410.2 681.6 408.4 682.5 407.5 M640.0 427.5 C642.5 426.6 646.9 425.2 650.0 425.0 C653.1 424.8 655.9 424.4 657.5 426.2 C659.1 428.1 659.0 432.1 658.8 435.0 C658.5 437.9 656.5 439.4 656.2 442.5 C656.0 445.6 658.6 450.2 657.5 452.5 C656.4 454.8 652.0 455.4 650.0 455.0 C648.0 454.6 648.0 452.7 646.2 450.0 C644.5 447.3 641.8 443.6 640.0 440.0 C638.2 436.4 636.2 432.2 636.2 430.0 C636.2 427.8 637.5 428.4 640.0 427.5 M657.5 426.2 L667.5 425.0 M667.5 425.0 C668.4 426.8 672.0 431.4 672.5 435.0 C673.0 438.6 671.4 441.4 670.0 445.0 C668.6 448.6 666.4 452.3 665.0 455.0 C663.6 457.7 663.0 459.1 662.5 460.0" stroke="#a6ccdc" stroke-width="1.1"/></g></svg>
<div id="lpanel" class="abs"></div>
<div id="title"><span class="tw" style="left:96.9px;top:4.2px;transform:scaleX(1.0043)">Rapid</span><span class="tw" style="left:227.48px;top:4.2px;transform:scaleX(1.0236)">Influenza</span><span class="tw" style="left:426.49px;top:4.2px;transform:scaleX(1.0066)">Diagnostic</span><span class="tw" style="left:654.11px;top:4.2px;transform:scaleX(0.8962)">Tests</span><span class="tw" style="left:765.72px;top:4.2px;transform:scaleX(0.8894)">(RIDT)</span><span class="tw" style="left:892.02px;top:4.2px;transform:scaleX(1.0779)">Market</span><span class="tw" style="left:97.89px;top:55.2px;transform:scaleX(0.9904)">2024</span><span class="tw" style="left:202.59px;top:55.2px;transform:scaleX(1.0028)">to</span><span class="tw" style="left:256.58px;top:55.2px;transform:scaleX(0.984)">2032</span></div>
<div id="ct1"><span class="cw" style="left:193.9px;top:160.2px;transform:scaleX(1.1)">Global</span><span class="cw" style="left:259.05px;top:160.2px;transform:scaleX(1.0991)">Market</span><span class="cw" style="left:329.16px;top:160.2px;transform:scaleX(0.839)">Size,</span><span class="cw" style="left:372.75px;top:160.2px;transform:scaleX(0.9964)">2024</span><span class="cw" style="left:420.08px;top:160.2px;transform:scaleX(1.1667)">and</span><span class="cw" style="left:460.88px;top:160.2px;transform:scaleX(1.0167)">2032</span></div>
<div id="ct2"><span class="cw cb" style="left:285.91px;top:188.8px;transform:scaleX(0.9913)">(USD</span><span class="cw cb" style="left:340.19px;top:188.8px;transform:scaleX(1.0634)">Million)</span></div>
<div id="chart" class="abs"></div>
<div class="gl" style="top:322px"></div>
<div class="gl" style="top:359px"></div>
<div class="gl" style="top:396px"></div>
<div class="gl" style="top:434px"></div>
<div class="gl" style="top:471px"></div>
<div class="gl" style="top:508px"></div>
<div class="gl" style="top:545px"></div>
<div class="bar" style="left:189px;top:458px;width:113px;height:88px;background:#33a3a3"></div>
<div class="bar" style="left:418px;top:351px;width:112px;height:195px;background:#0783b3"></div>
<div class="vl" style="left:191px;width:113px;top:432px;letter-spacing:0.3px">1410.39</div>
<div class="vl" style="left:413.6px;width:112px;top:330.5px;letter-spacing:0.4px">2067.97</div>
<div class="xl" style="left:189px;width:113px;top:559px">2024</div>
<div class="xl" style="left:418px;width:112px;top:559px">2032</div>
<div id="rpanel" class="abs"></div>
<div id="cres" class="abs" style="left:653.5px;top:280.5px;width:233px;height:233px;border-radius:50%;background:linear-gradient(108deg, rgba(85,100,112,0.64) 9%, rgba(85,100,112,0.6) 12%, rgba(85,100,112,0.42) 19%, rgba(85,100,112,0.2) 27.5%, rgba(85,100,112,0.08) 33%, rgba(85,100,112,0) 39%);"></div>
<div id="cring" class="abs" style="left:683px;top:308.7px;width:172.6px;height:172.6px;border-radius:50%;background:#fff;"></div>
<div id="cdark" class="abs" style="left:687.6px;top:313.3px;width:163.4px;height:163.4px;border-radius:50%;background:#183c4e;"></div>
<div id="cg1" class="abs" style="left:687.6px;width:163.4px;top:358.2px;text-align:center;color:#fff;font-weight:bold;font-size:32.5px;line-height:36px;letter-spacing:0px;text-indent:-3px;">CAGR</div>
<div id="cg2" class="abs" style="left:687.6px;width:163.4px;top:396.5px;text-align:center;color:#fff;font-weight:bold;font-size:32.5px;line-height:36px;letter-spacing:0px;text-indent:-3px;">4.9%</div>


<div class="seg" id="ms" style="top:191.8px;font-weight:bold;font-size:22px;line-height:26px;letter-spacing:0.9px;left:945.8px;">Market Segments</div>
<div class="seg sh" id="h1" style="top:219.2px">Based on Product Type:</div>
<div class="bu" style="top:271.2px"></div><div class="seg si" id="i1" style="top:260.7px">Conventional RIDTs</div>
<div class="bu" style="top:305.2px"></div><div class="seg si" id="i2" style="top:294.7px">Digital RIDTs</div>
<div class="seg sh" id="h2" style="top:329.7px">Based on Technology:</div>
<div class="bu" style="top:382.2px"></div><div class="seg si" id="i3" style="top:371.7px">Immunochromatographi</div>
<div class="seg si" id="i4" style="top:398.3px">c assays</div>
<div class="bu" style="top:442.8px"></div><div class="seg si" id="i5" style="top:432.3px">Lateral flow assays</div>
<div class="seg sh" id="h3" style="top:467.3px">Based on Sample Type:</div>
<div class="bu" style="top:518.5px"></div><div class="seg si" id="i6" style="top:508.0px">Nasal swab</div>
<div class="bu" style="top:552.5px"></div><div class="seg si" id="i7" style="top:542.0px">Throat swab</div>

<svg id="logo" class="abs" style="left:1030px;top:20px;width:240px;height:60px;" viewBox="1030 20 240 60">
<defs><linearGradient id="cg" x1="0" y1="0" x2="1" y2="0"><stop offset="0" stop-color="#2fb7d6"/><stop offset="1" stop-color="#29a9cd"/></linearGradient></defs>
<circle cx="1057.4" cy="49.3" r="13.5" fill="none" stroke="#4f6b85" stroke-width="3.8"/>
<path d="M1043.2 54.5 L1042.2 63.2 L1050.5 60.2 Z" fill="#4f6b85"/>
<path d="M1047.5 57.5 L1050.2 60.3" stroke="#fff" stroke-width="1.2"/>
<rect x="1048.5" y="49.3" width="3.9" height="9.2" fill="#1fb0d4"/>
<rect x="1055.1" y="44.4" width="3.9" height="16" fill="#1fb0d4"/>
<rect x="1061.7" y="38.9" width="3.9" height="19.6" fill="#4f6b85"/>
<text x="1077" y="50.5" font-family="Liberation Sans, sans-serif" font-size="19.4" fill="url(#cg)" textLength="83.2" lengthAdjust="spacingAndGlyphs">Credence</text>
<text x="1167" y="50.5" font-family="Liberation Sans, sans-serif" font-size="19.4" fill="#5a7186" textLength="79.8" lengthAdjust="spacingAndGlyphs">Research</text>
<text x="1077.4" y="61.4" font-family="Liberation Sans, sans-serif" font-weight="bold" font-size="6.2" fill="#555b60" textLength="169" lengthAdjust="spacing">Actionable Insights Delivered</text>
</svg>
</body>
</html>
